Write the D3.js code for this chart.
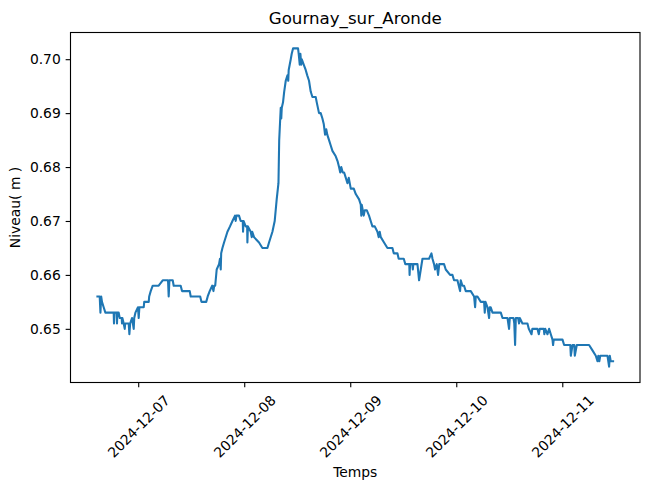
<!DOCTYPE html>
<html>
<head>
<meta charset="utf-8">
<script src="https://cdn.jsdelivr.net/npm/d3@7"></script>
<style>
  html, body { margin: 0; padding: 0; background: #ffffff; }
  svg { display: block; font-family: "DejaVu Sans", sans-serif; }
</style>
</head>
<body>
<svg id="chart" width="649" height="489"></svg>
<script>
const title = "Gournay_sur_Aronde";
const xLabel = "Temps";
const yLabel = "Niveau( m )";

const times = [
  "2024-12-06T14:32","2024-12-06T15:17","2024-12-06T15:27","2024-12-06T15:37","2024-12-06T15:48","2024-12-06T16:11","2024-12-06T16:34","2024-12-06T18:27","2024-12-06T18:31","2024-12-06T18:37",
  "2024-12-06T19:08","2024-12-06T19:12","2024-12-06T19:17","2024-12-06T19:35","2024-12-06T19:49","2024-12-06T20:16","2024-12-06T20:20","2024-12-06T20:25","2024-12-06T20:43","2024-12-06T20:57",
  "2024-12-06T21:03","2024-12-06T21:51","2024-12-06T22:00","2024-12-06T22:11","2024-12-06T22:36","2024-12-06T22:59","2024-12-06T23:06","2024-12-06T23:22","2024-12-06T23:57","2024-12-07T00:07",
  "2024-12-07T00:16","2024-12-07T01:15","2024-12-07T01:22","2024-12-07T02:23","2024-12-07T02:29","2024-12-07T02:50","2024-12-07T03:17","2024-12-07T04:38","2024-12-07T05:33","2024-12-07T06:45",
  "2024-12-07T06:54","2024-12-07T07:04","2024-12-07T07:49","2024-12-07T08:02","2024-12-07T09:37","2024-12-07T09:55","2024-12-07T11:40","2024-12-07T11:53","2024-12-07T14:02","2024-12-07T14:19",
  "2024-12-07T15:24","2024-12-07T15:44","2024-12-07T16:11","2024-12-07T16:45","2024-12-07T17:02","2024-12-07T17:12","2024-12-07T17:26","2024-12-07T17:46","2024-12-07T18:18","2024-12-07T18:31",
  "2024-12-07T18:41","2024-12-07T18:47","2024-12-07T19:04","2024-12-07T19:26","2024-12-07T20:12","2024-12-07T20:47","2024-12-07T21:20","2024-12-07T21:55","2024-12-07T22:04","2024-12-07T22:14",
  "2024-12-07T22:49","2024-12-07T23:12","2024-12-07T23:40","2024-12-07T23:44","2024-12-07T23:51","2024-12-08T00:20","2024-12-08T00:40","2024-12-08T00:43","2024-12-08T00:50","2024-12-08T01:28",
  "2024-12-08T01:42","2024-12-08T01:49","2024-12-08T02:13","2024-12-08T03:21","2024-12-08T04:07","2024-12-08T05:15","2024-12-08T05:37","2024-12-08T06:23","2024-12-08T06:54","2024-12-08T07:21",
  "2024-12-08T07:45","2024-12-08T07:55","2024-12-08T08:09","2024-12-08T08:16","2024-12-08T08:23","2024-12-08T08:30","2024-12-08T08:47","2024-12-08T09:03","2024-12-08T09:24","2024-12-08T09:47",
  "2024-12-08T09:58","2024-12-08T10:04","2024-12-08T10:32","2024-12-08T10:45","2024-12-08T11:03","2024-12-08T12:11","2024-12-08T12:20","2024-12-08T12:34","2024-12-08T12:43","2024-12-08T12:54",
  "2024-12-08T13:01","2024-12-08T13:28","2024-12-08T13:55","2024-12-08T14:16","2024-12-08T14:40","2024-12-08T15:03","2024-12-08T15:26","2024-12-08T16:11","2024-12-08T16:25","2024-12-08T16:56",
  "2024-12-08T17:19","2024-12-08T17:42","2024-12-08T18:00","2024-12-08T18:18","2024-12-08T18:34","2024-12-08T18:48","2024-12-08T19:12","2024-12-08T19:35","2024-12-08T19:58","2024-12-08T20:43",
  "2024-12-08T21:10","2024-12-08T21:28","2024-12-08T21:44","2024-12-08T21:58","2024-12-08T22:18","2024-12-08T22:37","2024-12-08T23:00","2024-12-08T23:22","2024-12-08T23:40","2024-12-09T00:07",
  "2024-12-09T00:48","2024-12-09T01:15","2024-12-09T02:00","2024-12-09T02:23","2024-12-09T02:30","2024-12-09T02:36","2024-12-09T02:50","2024-12-09T03:03","2024-12-09T03:17","2024-12-09T03:44",
  "2024-12-09T04:15","2024-12-09T04:38","2024-12-09T05:01","2024-12-09T05:33","2024-12-09T06:09","2024-12-09T06:27","2024-12-09T06:40","2024-12-09T06:55","2024-12-09T07:39","2024-12-09T08:25",
  "2024-12-09T09:33","2024-12-09T09:51","2024-12-09T10:41","2024-12-09T10:58","2024-12-09T12:07","2024-12-09T12:28","2024-12-09T13:22","2024-12-09T13:26","2024-12-09T13:33","2024-12-09T14:03",
  "2024-12-09T14:10","2024-12-09T14:17","2024-12-09T15:13","2024-12-09T15:35","2024-12-09T15:58","2024-12-09T16:21","2024-12-09T17:50","2024-12-09T18:23","2024-12-09T18:37","2024-12-09T18:58",
  "2024-12-09T19:12","2024-12-09T19:35","2024-12-09T19:53","2024-12-09T20:09","2024-12-09T21:14","2024-12-09T21:37","2024-12-09T22:36","2024-12-09T23:08","2024-12-09T23:30","2024-12-10T00:16",
  "2024-12-10T00:52","2024-12-10T01:01","2024-12-10T01:24","2024-12-10T01:46","2024-12-10T02:09","2024-12-10T03:17","2024-12-10T04:02","2024-12-10T04:16","2024-12-10T04:25","2024-12-10T04:48",
  "2024-12-10T05:33","2024-12-10T06:18","2024-12-10T06:27","2024-12-10T06:37","2024-12-10T07:04","2024-12-10T07:26","2024-12-10T07:35","2024-12-10T07:48","2024-12-10T08:12","2024-12-10T10:05",
  "2024-12-10T10:28","2024-12-10T11:36","2024-12-10T11:57","2024-12-10T12:07","2024-12-10T12:57","2024-12-10T13:08","2024-12-10T13:19","2024-12-10T13:29","2024-12-10T14:00","2024-12-10T14:13",
  "2024-12-10T14:23","2024-12-10T14:59","2024-12-10T16:07","2024-12-10T16:25","2024-12-10T17:02","2024-12-10T17:13","2024-12-10T18:23","2024-12-10T18:41","2024-12-10T18:54","2024-12-10T19:49",
  "2024-12-10T19:56","2024-12-10T20:09","2024-12-10T20:39","2024-12-10T21:01","2024-12-10T21:24","2024-12-10T21:47","2024-12-10T21:55","2024-12-10T22:04","2024-12-10T23:17","2024-12-11T00:03",
  "2024-12-11T00:25","2024-12-11T01:49","2024-12-11T01:56","2024-12-11T02:19","2024-12-11T02:43","2024-12-11T02:50","2024-12-11T03:17","2024-12-11T06:04","2024-12-11T06:50","2024-12-11T07:35",
  "2024-12-11T07:58","2024-12-11T08:09","2024-12-11T08:23","2024-12-11T08:36","2024-12-11T10:14","2024-12-11T10:36","2024-12-11T10:45","2024-12-11T10:58","2024-12-11T11:44"
];

const levels = [
  0.656,0.656,0.653,0.656,0.655,0.654,0.653,0.653,0.651,0.653,
  0.653,0.651,0.653,0.653,0.652,0.652,0.651,0.652,0.651,0.650,
  0.651,0.651,0.649,0.651,0.652,0.650,0.652,0.653,0.654,0.652,
  0.654,0.654,0.655,0.655,0.656,0.657,0.658,0.658,0.659,0.659,
  0.656,0.659,0.659,0.658,0.658,0.657,0.657,0.656,0.656,0.655,
  0.655,0.656,0.657,0.658,0.657,0.658,0.658,0.661,0.662,0.663,
  0.661,0.664,0.665,0.666,0.668,0.669,0.670,0.671,0.670,0.671,
  0.671,0.670,0.670,0.668,0.670,0.669,0.669,0.666,0.669,0.668,
  0.667,0.668,0.667,0.666,0.665,0.665,0.666,0.668,0.670,0.674,
  0.677,0.685,0.689,0.691,0.689,0.691,0.692,0.694,0.696,0.697,
  0.696,0.698,0.700,0.701,0.702,0.702,0.701,0.699,0.701,0.699,
  0.700,0.699,0.698,0.697,0.696,0.694,0.693,0.693,0.692,0.690,
  0.690,0.689,0.688,0.686,0.687,0.686,0.685,0.684,0.683,0.682,
  0.681,0.680,0.679,0.680,0.679,0.679,0.678,0.677,0.678,0.676,
  0.676,0.675,0.674,0.673,0.671,0.673,0.672,0.671,0.672,0.672,
  0.671,0.670,0.669,0.669,0.668,0.667,0.668,0.667,0.666,0.665,
  0.665,0.664,0.664,0.663,0.663,0.662,0.662,0.660,0.662,0.662,
  0.661,0.662,0.662,0.659,0.661,0.663,0.663,0.664,0.663,0.662,
  0.661,0.662,0.660,0.662,0.662,0.661,0.660,0.660,0.659,0.659,
  0.657,0.659,0.658,0.658,0.657,0.657,0.656,0.654,0.656,0.656,
  0.655,0.655,0.653,0.655,0.654,0.652,0.654,0.654,0.653,0.653,
  0.652,0.652,0.650,0.652,0.652,0.651,0.647,0.652,0.652,0.651,
  0.652,0.651,0.651,0.650,0.649,0.650,0.650,0.649,0.650,0.650,
  0.649,0.650,0.649,0.650,0.649,0.648,0.647,0.648,0.648,0.648,
  0.647,0.647,0.645,0.647,0.647,0.645,0.647,0.647,0.646,0.645,
  0.644,0.645,0.644,0.645,0.645,0.643,0.645,0.644,0.644
];

const yTicks = [0.65, 0.66, 0.67, 0.68, 0.69, 0.70];
const xTickLabels = ["2024-12-07", "2024-12-08", "2024-12-09", "2024-12-10", "2024-12-11"];

const parseTime = d3.timeParse("%Y-%m-%dT%H:%M");
const parseDay = d3.timeParse("%Y-%m-%d");
const data = times.map((t, i) => ({ t: parseTime(t), v: levels[i] }));
const xTicks = xTickLabels.map(parseDay);

const m = { left: 70.5, right: 640, top: 32.5, bottom: 382.5 };
const pt = 100 / 72;

const svg = d3.select("#chart");

// matplotlib-like 5% margins
const tExt = d3.extent(data, d => d.t);
const tPad = (tExt[1] - tExt[0]) * 0.05;
const vExt = d3.extent(data, d => d.v);
const vPad = (vExt[1] - vExt[0]) * 0.05;

const x = d3.scaleTime()
  .domain([new Date(+tExt[0] - tPad), new Date(+tExt[1] + tPad)])
  .range([m.left, m.right]);
const y = d3.scaleLinear()
  .domain([vExt[0] - vPad, vExt[1] + vPad])
  .range([m.bottom, m.top]);

const fontSize = 10 * pt;
const tickLen = 3.5 * pt;
const tickPad = 3.5 * pt;

// line
const line = d3.line().x(d => x(d.t)).y(d => y(d.v));
svg.append("path")
  .datum(data)
  .attr("d", line)
  .attr("fill", "none")
  .attr("stroke", "#1f77b4")
  .attr("stroke-width", 1.5 * pt)
  .attr("stroke-linejoin", "round");

// frame
svg.append("rect")
  .attr("x", m.left).attr("y", m.top)
  .attr("width", m.right - m.left).attr("height", m.bottom - m.top)
  .attr("fill", "none").attr("stroke", "#000").attr("stroke-width", 0.8 * pt);

// y axis
const yAxis = d3.axisLeft(y).tickValues(yTicks).tickFormat(d3.format(".2f")).tickSizeInner(tickLen).tickSizeOuter(0).tickPadding(tickPad);
const gy = svg.append("g").attr("transform", `translate(${m.left},0)`).call(yAxis);
gy.select(".domain").remove();
gy.selectAll(".tick line").attr("stroke", "#000").attr("stroke-width", 0.8 * pt);
gy.selectAll(".tick text").attr("fill", "#000").style("font-size", fontSize + "px").style("font-family", "DejaVu Sans");

// x axis
const xAxis = d3.axisBottom(x).tickValues(xTicks).tickFormat(d3.timeFormat("%Y-%m-%d")).tickSizeInner(tickLen).tickSizeOuter(0).tickPadding(tickPad);
const gx = svg.append("g").attr("transform", `translate(0,${m.bottom})`).call(xAxis);
gx.select(".domain").remove();
gx.selectAll(".tick line").attr("stroke", "#000").attr("stroke-width", 0.8 * pt);
gx.selectAll(".tick text")
  .attr("fill", "#000")
  .style("font-size", fontSize + "px")
  .style("font-family", "DejaVu Sans")
  .each(function() {
    const el = d3.select(this);
    const w = this.getComputedTextLength();
    const h = fontSize * 1.16;
    const bh = (w + h) * Math.SQRT1_2;
    el.attr("y", null).attr("dy", "0.35em").attr("text-anchor", "middle")
      .attr("transform", `translate(0,${tickLen + tickPad + bh / 2}) rotate(-45)`);
  });

// title
svg.append("text")
  .attr("x", (m.left + m.right) / 2).attr("y", 24)
  .attr("text-anchor", "middle")
  .style("font-size", (12 * pt) + "px").style("font-family", "DejaVu Sans")
  .attr("fill", "#000")
  .text(title);

// x label
svg.append("text")
  .attr("x", (m.left + m.right) / 2).attr("y", 477)
  .attr("text-anchor", "middle")
  .style("font-size", fontSize + "px").style("font-family", "DejaVu Sans")
  .attr("fill", "#000")
  .text(xLabel);

// y label
svg.append("text")
  .attr("transform", `translate(20,${(m.top + m.bottom) / 2}) rotate(-90)`)
  .attr("text-anchor", "middle")
  .style("font-size", fontSize + "px").style("font-family", "DejaVu Sans")
  .attr("fill", "#000")
  .text(yLabel);
</script>
</body>
</html>
